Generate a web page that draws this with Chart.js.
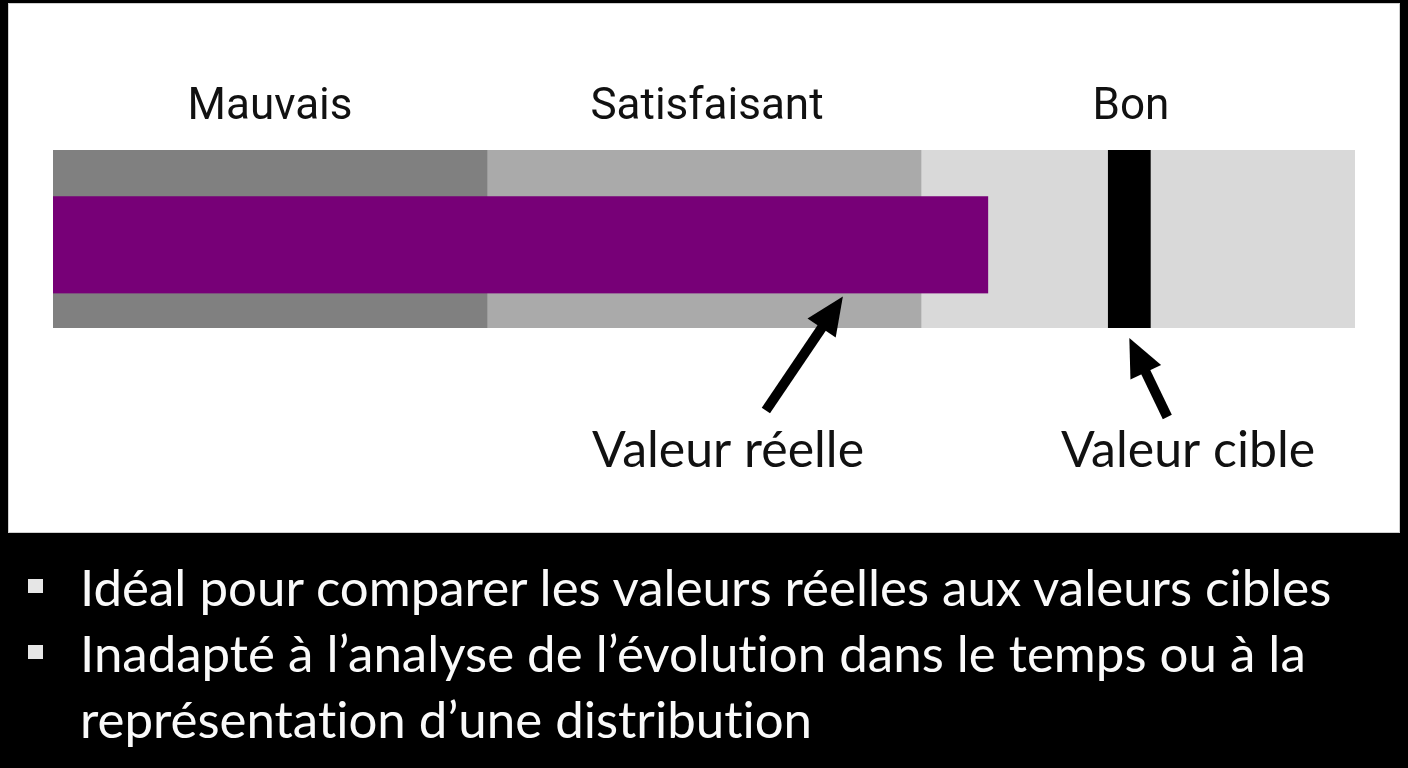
<!DOCTYPE html>
<html lang="fr">
<head>
<meta charset="utf-8">
<title>Graphique à puces</title>
<script src="https://cdn.jsdelivr.net/npm/chart.js@4.4.1/dist/chart.umd.min.js"></script>
<style>
  html, body { margin: 0; padding: 0; background: #000; width: 1408px; height: 768px; overflow: hidden; }
  #panel {
    position: absolute; left: 8px; top: 3px; width: 1392px; height: 530px;
    box-sizing: border-box; border: 1px solid #cfcfcf; background: #fff;
  }
  #bullet { display: block; }
  .note {
    position: absolute; left: 80px; margin: 0; white-space: nowrap;
    color: #fafafa; font-family: Lato, "Open Sans", sans-serif; font-size: 51px; line-height: 66px;
    font-variant-ligatures: none; font-feature-settings: "liga" 0;
  }
  .note.first::before {
    content: ""; position: absolute; left: -52px; top: 25px; width: 15px; height: 14px; background: #e6e6e6;
  }
</style>
</head>
<body>
<div id="panel"><canvas id="bullet" width="1390" height="528"></canvas></div>
<div id="notes"></div>

<script>
// --- data ---
const categories = ['Indicateur'];
const rangeLabels = ['Mauvais', 'Satisfaisant', 'Bon'];
const rangeBounds = [0, 100, 200, 300];
const actualValues = [215.5];
const targetValues = [248];
const calloutLabels = ['Valeur réelle', 'Valeur cible'];
const noteLines = [
    ['Idéal pour comparer les valeurs réelles aux valeurs cibles', true],
    ['Inadapté à l\u2019analyse de l\u2019évolution dans le temps ou à la', true],
    ['représentation d\u2019une distribution', false]
];

const rangeColors = ['#808080', '#aaaaaa', '#d9d9d9'];
const markerHalf = 4.85; // half width of the target marker, in axis units

// bullet text under the chart
const notesBox = document.getElementById('notes');
noteLines.forEach((line, i) => {
    const div = document.createElement('div');
    div.className = 'note' + (line[1] ? ' first' : '');
    div.style.top = (554 + i * 66) + 'px';
    div.textContent = line[0];
    notesBox.appendChild(div);
});

// range bands, drawn behind everything
const rangeSets = rangeLabels.map((label, i) => ({
    label: label,
    data: [[rangeBounds[i], rangeBounds[i + 1]]],
    backgroundColor: rangeColors[i],
    barThickness: 178,
    grouped: false,
    order: 3
}));

// labels above the bands, arrows and callouts
const overlay = {
    id: 'overlay',
    afterDatasetsDraw(chart) {
        const { ctx, chartArea, scales: { x } } = chart;
        ctx.save();
        ctx.fillStyle = '#111';
        ctx.textAlign = 'center';
        ctx.textBaseline = 'alphabetic';
        ctx.font = '44px Roboto';
        const nudge = [0, 3, -7];
        rangeLabels.forEach((label, i) => {
            const mid = (rangeBounds[i] + rangeBounds[i + 1]) / 2;
            ctx.fillText(label, x.getPixelForValue(mid) + nudge[i], chartArea.top - 31);
        });

        const actualMeta = chart.getDatasetMeta(rangeSets.length);
        const barBottom = actualMeta.data[0].y + actualMeta.data[0].height / 2;
        const arrows = [
            { tipX: x.getPixelForValue(182), tipY: barBottom + 3, dx: -77, dy: 114, textX: 719, text: calloutLabels[0] },
            { tipX: x.getPixelForValue(targetValues[0]), tipY: chartArea.bottom + 10, dx: 38, dy: 79, textX: 1179, text: calloutLabels[1] }
        ];
        arrows.forEach(a => {
            const len = Math.hypot(a.dx, a.dy);
            const ux = a.dx / len, uy = a.dy / len;
            const headLen = 38, headHalf = 17;
            const bx = a.tipX + ux * headLen, by = a.tipY + uy * headLen;
            ctx.strokeStyle = '#000';
            ctx.lineWidth = 10;
            ctx.beginPath();
            ctx.moveTo(a.tipX + a.dx, a.tipY + a.dy);
            ctx.lineTo(bx - ux * 4, by - uy * 4);
            ctx.stroke();
            ctx.fillStyle = '#000';
            ctx.beginPath();
            ctx.moveTo(a.tipX, a.tipY);
            ctx.lineTo(bx - uy * headHalf, by + ux * headHalf);
            ctx.lineTo(bx + uy * headHalf, by - ux * headHalf);
            ctx.closePath();
            ctx.fill();

            ctx.fillStyle = '#111';
            ctx.font = '50px Lato';
            ctx.fillText(a.text, a.textX, 463);
        });
        ctx.restore();
    }
};

new Chart(document.getElementById('bullet'), {
    type: 'bar',
    data: {
        labels: categories,
        datasets: [
            ...rangeSets,
            {
                // the measure bar sits a little below the band centre:
                // a transparent top border pushes the fill down
                label: 'Valeur réelle',
                data: actualValues.map(v => [0, v]),
                backgroundColor: '#770077',
                borderColor: 'rgba(0,0,0,0)',
                borderWidth: { top: 12, right: 0, bottom: 0, left: 0 },
                borderSkipped: false,
                barThickness: 109,
                grouped: false,
                order: 2
            },
            {
                label: 'Valeur cible',
                data: targetValues.map(v => [v - markerHalf, v + markerHalf]),
                backgroundColor: '#000000',
                barThickness: 178,
                grouped: false,
                order: 1
            }
        ]
    },
    options: {
        indexAxis: 'y',
        responsive: false,
        animation: false,
        layout: { padding: { left: 44, right: 44, top: 146, bottom: 204 } },
        scales: {
            x: { display: false, min: rangeBounds[0], max: rangeBounds[rangeBounds.length - 1] },
            y: { display: false }
        },
        plugins: {
            legend: { display: false },
            tooltip: { enabled: false }
        }
    },
    plugins: [overlay]
});
</script>
</body>
</html>
